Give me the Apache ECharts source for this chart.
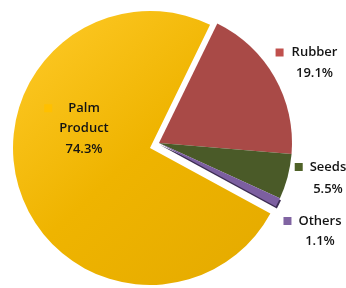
<!DOCTYPE html>
<html>
<head>
<meta charset="utf-8">
<script src="https://cdn.jsdelivr.net/npm/echarts@6/dist/echarts.min.js"></script>
<style>
html,body{margin:0;padding:0;background:#fff;}
#c{width:346px;height:288px;}
</style>
</head>
<body>
<div id="c"></div>
<script>
const categories = ['Rubber', 'Seeds', 'Others', 'Palm Product'];
const values = [19.1, 5.5, 1.1, 74.3];
const exploded = [false, false, false, true];

const sliceColors = ['#A94A47', '#4A5A28', '#7C5FA0', null];
const markColors = ['#C0504D', '#4F6228', '#8064A2', '#FFC000'];
const labelAnchors = [[306.5, 42], [320.5, 156], [312.5, 211], [72, 98]];
const markGaps = [8, 7, 7, 16];
const lineHeights = [21, 22, 20, 20.5];
const FONT = 'Open Sans';
const FS = 13;
const FW = 600;

const chart = echarts.init(document.getElementById('c'), null, {renderer: 'canvas'});

const palmGradient = new echarts.graphic.LinearGradient(0, 0, 1, 1, [
  {offset: 0, color: '#FFCB2A'},
  {offset: 0.5, color: '#EFB400'},
  {offset: 1, color: '#E4AA00'}
]);

function makeData(showExploded) {
  return categories.map((name, i) => {
    const visible = exploded[i] === showExploded;
    const words = name.split(' ');
    const pct = values[i].toFixed(1) + '%';
    const lines = ['{sq| }{gap| }{t|' + words[0] + '}']
      .concat(words.slice(1).map(w => '{ti|' + w + '}'))
      .concat(['{ti|' + pct + '}']);
    const lh = lineHeights[i];
    const item = {
      name: name,
      value: values[i],
      itemStyle: {color: visible ? (i === 3 ? palmGradient : sliceColors[i]) : 'rgba(0,0,0,0)'},
      label: {
        show: visible,
        formatter: lines.join('\n'),
        align: 'center',
        rich: {
          sq: {width: 8, height: 8, backgroundColor: markColors[i], fontSize: 8, lineHeight: lh, align: 'center'},
          gap: {width: markGaps[i], fontSize: FS, lineHeight: lh, align: 'center'},
          t: {fontSize: FS, fontWeight: FW, color: '#141414', fontFamily: FONT, lineHeight: lh, align: 'center'},
          ti: {fontSize: FS, fontWeight: FW, color: '#141414', fontFamily: FONT, lineHeight: lh, align: 'center', padding: [0, 0, 0, 8 + markGaps[i]]}
        }
      }
    };
    if (i === 2 && visible) {
      item.itemStyle.shadowColor = '#3b2c52';
      item.itemStyle.shadowOffsetY = 2;
      item.itemStyle.shadowOffsetX = 1;
      item.itemStyle.shadowBlur = 0;
    }
    return item;
  });
}

const common = {
  type: 'pie',
  startAngle: 64,
  clockwise: true,
  selectedMode: false,
  avoidLabelOverlap: false,
  silent: true,
  itemStyle: {borderWidth: 0},
  emphasis: {disabled: true},
  label: {show: true, position: 'inside', align: 'center', rotate: 0},
  labelLine: {show: false},
  labelLayout: function (params) {
    const a = labelAnchors[params.dataIndex];
    return {x: a[0], y: a[1], align: 'center', verticalAlign: 'top', hideOverlap: false};
  }
};

chart.setOption({
  animation: false,
  backgroundColor: '#ffffff',
  series: [
    Object.assign({}, common, {center: [159, 143], radius: [0, 133], data: makeData(false)}),
    Object.assign({}, common, {center: [150, 148], radius: [0, 137], data: makeData(true)})
  ]
});
</script>
</body>
</html>
